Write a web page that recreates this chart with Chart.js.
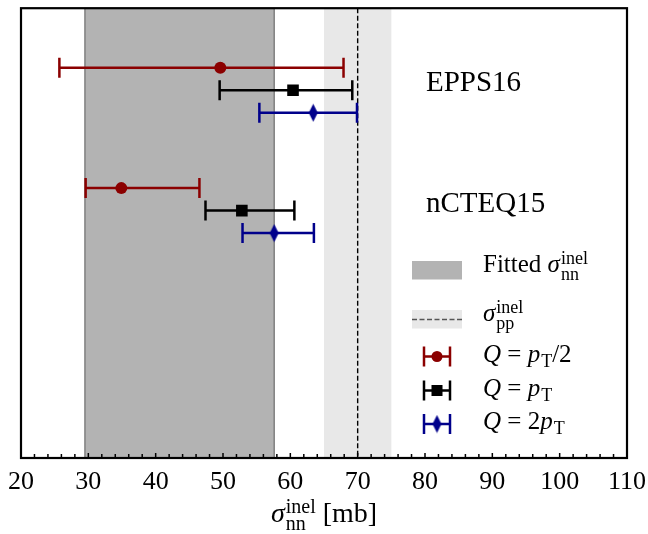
<!DOCTYPE html>
<html lang="en">
<head>
  <meta charset="UTF-8" />
  <title>sigma nn inel</title>
  <script src="https://cdn.jsdelivr.net/npm/chart.js"></script>
  <style>
    body { margin: 0; background: white; }
    canvas { display: block; }
  </style>
</head>
<body>
  <canvas id="chart" width="648" height="534"></canvas>
  <script>
    // values (mb)
    const groupNames = ['EPPS16', 'nCTEQ15'];
    const groupRows = [16.35, 11.0];          // row of the Q = pT point, label sits there
    const rowsEpps = [17.35, 16.35, 15.35];
    const rowsNcteq = [12.0, 11.0, 10.0];
    const eppsCentral = [49.6, 60.4, 63.4];
    const eppsLow = [25.7, 49.5, 55.4];
    const eppsHigh = [67.9, 69.2, 69.9];
    const ncteqCentral = [34.9, 52.8, 57.6];
    const ncteqLow = [29.6, 47.4, 52.9];
    const ncteqHigh = [46.5, 60.6, 63.5];
    const fittedBand = [29.5, 57.6];
    const ppBand = [65, 75];
    const ppValue = 70;
    const xTickLabels = [20, 30, 40, 50, 60, 70, 80, 90, 100, 110];

    const colors = ['#8b0000', '#000000', '#00008b'];
    const SERIF = '"Liberation Serif", "DejaVu Serif", serif';

    // thin diamond marker
    const diamond = document.createElement('canvas');
    diamond.width = 11; diamond.height = 19;
    (() => {
      const c = diamond.getContext('2d');
      c.fillStyle = colors[2];
      c.beginPath();
      c.moveTo(5.5, 0.5); c.lineTo(10, 9.5); c.lineTo(5.5, 18.5); c.lineTo(1, 9.5);
      c.closePath(); c.fill();
    })();
    const pointStyles = ['circle', 'rect', diamond];
    const pointRadius = [6, 8.2, 6];

    // rich text: parts {t, it} or {sup, sub}
    function mathWidth(ctx, parts, size) {
      let w = 0;
      for (const p of parts) {
        if (p.t !== undefined) {
          ctx.font = (p.it ? 'italic ' : '') + size + 'px ' + SERIF;
          w += ctx.measureText(p.t).width;
        } else {
          ctx.font = Math.round(size * 0.72) + 'px ' + SERIF;
          w += Math.max(p.sup ? ctx.measureText(p.sup).width : 0, p.sub ? ctx.measureText(p.sub).width : 0) + 1;
        }
      }
      return w;
    }
    function drawMath(ctx, x, y, parts, size) {
      ctx.save();
      ctx.fillStyle = '#000';
      ctx.textAlign = 'left';
      ctx.textBaseline = 'alphabetic';
      for (const p of parts) {
        if (p.t !== undefined) {
          ctx.font = (p.it ? 'italic ' : '') + size + 'px ' + SERIF;
          ctx.fillText(p.t, x, y);
          x += ctx.measureText(p.t).width;
        } else {
          ctx.font = Math.round(size * 0.72) + 'px ' + SERIF;
          let w = 0;
          if (p.sup) { ctx.fillText(p.sup, x + 1, y - size * 0.32); w = ctx.measureText(p.sup).width; }
          if (p.sub) {
            const dy = p.sup ? size * 0.3 : size * 0.2;
            ctx.fillText(p.sub, x + 1, y + dy);
            w = Math.max(w, ctx.measureText(p.sub).width);
          }
          x += w + 1;
        }
      }
      ctx.restore();
    }

    function errorBar(ctx, x1, x2, y, color) {
      ctx.save();
      ctx.strokeStyle = color;
      ctx.lineWidth = 2.5;
      ctx.beginPath();
      ctx.moveTo(x1, y); ctx.lineTo(x2, y);
      ctx.moveTo(x1, y - 10); ctx.lineTo(x1, y + 10);
      ctx.moveTo(x2, y - 10); ctx.lineTo(x2, y + 10);
      ctx.stroke();
      ctx.restore();
    }

    const datasets = colors.map((c, i) => ({
      label: ['Q = pT/2', 'Q = pT', 'Q = 2pT'][i],
      data: [
        { x: eppsCentral[i], y: rowsEpps[i] },
        { x: ncteqCentral[i], y: rowsNcteq[i] }
      ],
      low: [eppsLow[i], ncteqLow[i]],
      high: [eppsHigh[i], ncteqHigh[i]],
      pointStyle: pointStyles[i],
      pointRadius: pointRadius[i],
      backgroundColor: c,
      borderColor: c,
      borderWidth: 0,
      showLine: false
    }));

    const decor = {
      id: 'decor',
      beforeDatasetsDraw(chart) {
        const { ctx, chartArea: a, scales: { x } } = chart;
        ctx.save();
        // pp band + line
        ctx.fillStyle = '#e8e8e8';
        ctx.fillRect(x.getPixelForValue(ppBand[0]), a.top, x.getPixelForValue(ppBand[1]) - x.getPixelForValue(ppBand[0]), a.bottom - a.top);
        // fitted band
        const f0 = x.getPixelForValue(fittedBand[0]), f1 = x.getPixelForValue(fittedBand[1]);
        ctx.fillStyle = '#b3b3b3';
        ctx.fillRect(f0, a.top, f1 - f0, a.bottom - a.top);
        ctx.strokeStyle = '#858585';
        ctx.lineWidth = 1.6;
        ctx.beginPath();
        ctx.moveTo(f0, a.top); ctx.lineTo(f0, a.bottom);
        ctx.moveTo(f1, a.top); ctx.lineTo(f1, a.bottom);
        ctx.stroke();
        const px = x.getPixelForValue(ppValue);
        ctx.strokeStyle = '#000';
        ctx.lineWidth = 1.4;
        ctx.setLineDash([5, 2.5]);
        ctx.beginPath();
        ctx.moveTo(px, a.top); ctx.lineTo(px, a.bottom);
        ctx.stroke();
        ctx.setLineDash([]);
        ctx.restore();
        // error bars
        chart.data.datasets.forEach((ds, i) => {
          const meta = chart.getDatasetMeta(i);
          ds.data.forEach((pt, j) => {
            errorBar(ctx, x.getPixelForValue(ds.low[j]), x.getPixelForValue(ds.high[j]),
              meta.data[j].y, colors[i]);
          });
        });
      },
      afterDraw(chart) {
        const { ctx, chartArea: a, scales: { x, y } } = chart;
        ctx.save();
        // inward ticks
        ctx.strokeStyle = '#000';
        ctx.lineWidth = 1.5;
        ctx.beginPath();
        for (let v = 20; v <= 110; v += 2) {
          const px = x.getPixelForValue(v);
          const len = v % 10 === 0 ? 5 : 4;
          ctx.moveTo(px, a.bottom); ctx.lineTo(px, a.bottom - len);
        }
        ctx.stroke();
        // frame
        ctx.lineWidth = 2.2;
        ctx.strokeRect(a.left, a.top, a.right - a.left, a.bottom - a.top);
        ctx.restore();

        // group labels
        ctx.save();
        ctx.font = '29px ' + SERIF;
        ctx.fillStyle = '#000';
        groupNames.forEach((g, i) => {
          ctx.fillText(g, 426, y.getPixelForValue(groupRows[i]) + 1);
        });
        ctx.restore();

        // legend
        const L = 412, R = 462, TX = 483, fs = 25;
        ctx.save();
        ctx.fillStyle = '#b3b3b3';
        ctx.fillRect(L, 261, R - L, 18.5);
        ctx.fillStyle = '#e8e8e8';
        ctx.fillRect(L, 310, R - L, 18.5);
        ctx.strokeStyle = '#555';
        ctx.lineWidth = 1.3;
        ctx.setLineDash([5, 2.5]);
        ctx.beginPath(); ctx.moveTo(L, 319.5); ctx.lineTo(R, 319.5); ctx.stroke();
        ctx.setLineDash([]);
        ctx.restore();
        drawMath(ctx, TX, 272, [{ t: 'Fitted ' }, { t: 'σ', it: 1 }, { sup: 'inel', sub: 'nn' }], fs);
        drawMath(ctx, TX, 321, [{ t: 'σ', it: 1 }, { sup: 'inel', sub: 'pp' }], fs);
        const legendRows = [356.5, 390.5, 424];
        const legendTexts = [
          [{ t: 'Q', it: 1 }, { t: ' = ' }, { t: 'p', it: 1 }, { sub: 'T' }, { t: '/2' }],
          [{ t: 'Q', it: 1 }, { t: ' = ' }, { t: 'p', it: 1 }, { sub: 'T' }],
          [{ t: 'Q', it: 1 }, { t: ' = 2' }, { t: 'p', it: 1 }, { sub: 'T' }]
        ];
        legendRows.forEach((ly, i) => {
          errorBar(ctx, 424, 450, ly, colors[i]);
          ctx.save();
          ctx.fillStyle = colors[i];
          if (i === 0) { ctx.beginPath(); ctx.arc(437, ly, 5.5, 0, Math.PI * 2); ctx.fill(); }
          else if (i === 1) ctx.fillRect(431.5, ly - 5.5, 11, 11);
          else ctx.drawImage(diamond, 437 - 5.5, ly - 9.5);
          ctx.restore();
          drawMath(ctx, TX, ly + 5, legendTexts[i], fs);
        });

        // x axis title
        const title = [{ t: 'σ', it: 1 }, { sup: 'inel', sub: 'nn' }, { t: ' [mb]' }];
        const tw = mathWidth(ctx, title, 28);
        drawMath(ctx, (a.left + a.right) / 2 - tw / 2, 522, title, 28);
      }
    };

    new Chart(document.getElementById('chart'), {
      type: 'scatter',
      data: { datasets },
      options: {
        responsive: false,
        animation: false,
        devicePixelRatio: 1,
        layout: { padding: { left: 21, right: 21, top: 7, bottom: 0 } },
        plugins: { legend: { display: false }, tooltip: { enabled: false } },
        scales: {
          x: {
            type: 'linear', min: 20, max: 110,
            afterBuildTicks: (s) => { s.ticks = xTickLabels.map(v => ({ value: v })); },
            afterFit: (s) => { s.height = 76; s.paddingLeft = 0; s.paddingRight = 0; },
            grid: { display: false },
            border: { display: false },
            ticks: { color: '#000', font: { family: SERIF, size: 26 }, padding: 1, maxRotation: 0 }
          },
          y: { type: 'linear', min: 0, max: 20, display: false }
        }
      },
      plugins: [decor]
    });
  </script>
</body>
</html>
